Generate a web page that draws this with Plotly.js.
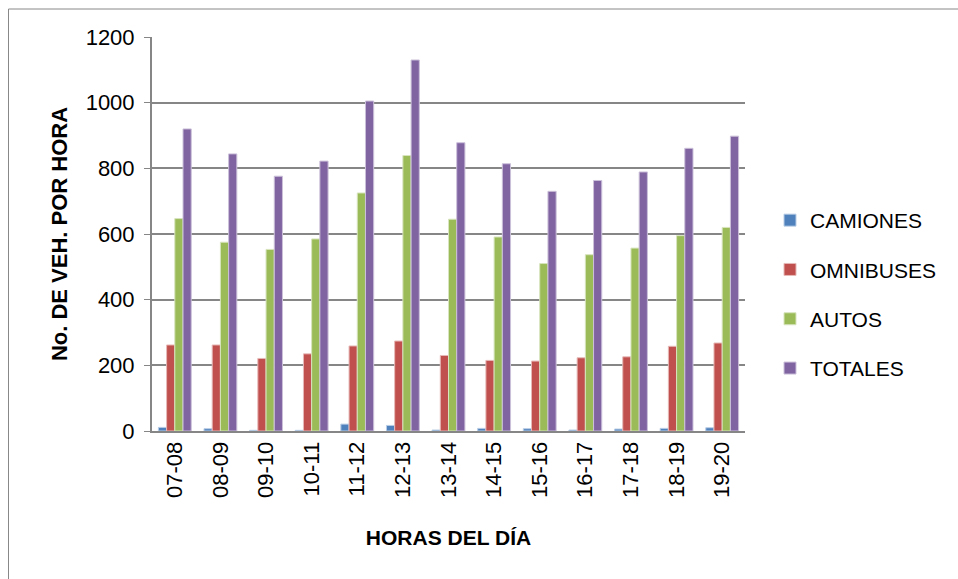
<!DOCTYPE html>
<html>
<head>
<meta charset="utf-8">
<script src="https://cdn.plot.ly/plotly-3.0.1.min.js"></script>
<style>
  html, body { margin: 0; padding: 0; background: #fff; }
  #chart { width: 958px; height: 579px; }
</style>
</head>
<body>
<div id="chart"></div>
<script>
// Vehicle counts per hour of the day
const horas = ['07-08', '08-09', '09-10', '10-11', '11-12', '12-13', '13-14',
               '14-15', '15-16', '16-17', '17-18', '18-19', '19-20'];
const camiones  = [11, 7, 2, 2, 21, 17, 3, 8, 7, 3, 6, 8, 10];
const omnibuses = [262, 262, 221, 235, 259, 274, 230, 215, 213, 223, 226, 258, 268];
const autos     = [647, 575, 553, 585, 725, 839, 645, 591, 510, 537, 557, 595, 620];
const totales   = [920, 844, 776, 822, 1005, 1130, 878, 814, 730, 763, 789, 861, 898];

const seriesNames  = ['CAMIONES', 'OMNIBUSES', 'AUTOS', 'TOTALES'];
const seriesValues = [camiones, omnibuses, autos, totales];
const seriesColors = ['#4F81BD', '#C0504D', '#9BBB59', '#8064A2'];
const edgeColors   = ['#B9CDE5', '#E6B9B8', '#D7E4BD', '#CCC1DA'];

const FONT = 'Liberation Sans, Arial, sans-serif';

const traces = seriesNames.map((name, i) => ({
  type: 'bar',
  name: name,
  x: horas,
  y: seriesValues[i],
  legendgroup: name,
  marker: { color: seriesColors[i], line: { color: edgeColors[i], width: 1 } },
  hoverinfo: 'x+y+name'
}));

// plot area in pixels: left 152, right 745, top 37, bottom 431
const L = 152, R = 745, T = 37, B = 431;
const px = v => (v - L) / (R - L);
const py = v => (B - v) / (B - T);

const layout = {
  width: 958,
  height: 579,
  margin: { l: L, r: 958 - R, t: T, b: 579 - B, pad: 0 },
  paper_bgcolor: '#fff',
  plot_bgcolor: '#fff',
  font: { family: FONT, size: 22, color: '#000' },
  barmode: 'group',
  bargap: 0.28,
  bargroupgap: 0,
  showlegend: true,
  legend: {
    x: px(770), y: py(200), xanchor: 'left', yanchor: 'top',
    font: { family: FONT, size: 21, color: '#000' },
    traceorder: 'grouped',
    tracegroupgap: 19,
    itemwidth: 30,
    bgcolor: 'rgba(0,0,0,0)'
  },
  xaxis: {
    type: 'category',
    showline: true, linecolor: '#868686', linewidth: 2,
    showgrid: false,
    ticks: '',
    tickangle: -90,
    tickfont: { family: FONT, size: 22 },
    title: { text: '<b>HORAS DEL DÍA</b>', font: { family: FONT, size: 21 }, standoff: 33 },
    automargin: false
  },
  yaxis: {
    range: [0, 1200],
    dtick: 200,
    showline: true, linecolor: '#868686', linewidth: 2,
    showgrid: true, gridcolor: '#868686', gridwidth: 2,
    zeroline: false,
    ticks: 'outside', ticklen: 6, tickcolor: '#868686', tickwidth: 1,
    tickfont: { family: FONT, size: 22 },
    ticklabelstandoff: 5,
    title: { text: '<b>No. DE VEH. POR HORA</b>', font: { family: FONT, size: 22 }, standoff: 12 },
    automargin: false
  },
  shapes: [{
    type: 'rect', xref: 'paper', yref: 'paper',
    x0: px(8.5), x1: px(1000), y0: py(9), y1: py(620),
    line: { color: '#888888', width: 1 }, fillcolor: 'rgba(0,0,0,0)'
  }]
};

Plotly.newPlot('chart', traces, layout, { displayModeBar: false, staticPlot: true });
</script>
</body>
</html>
